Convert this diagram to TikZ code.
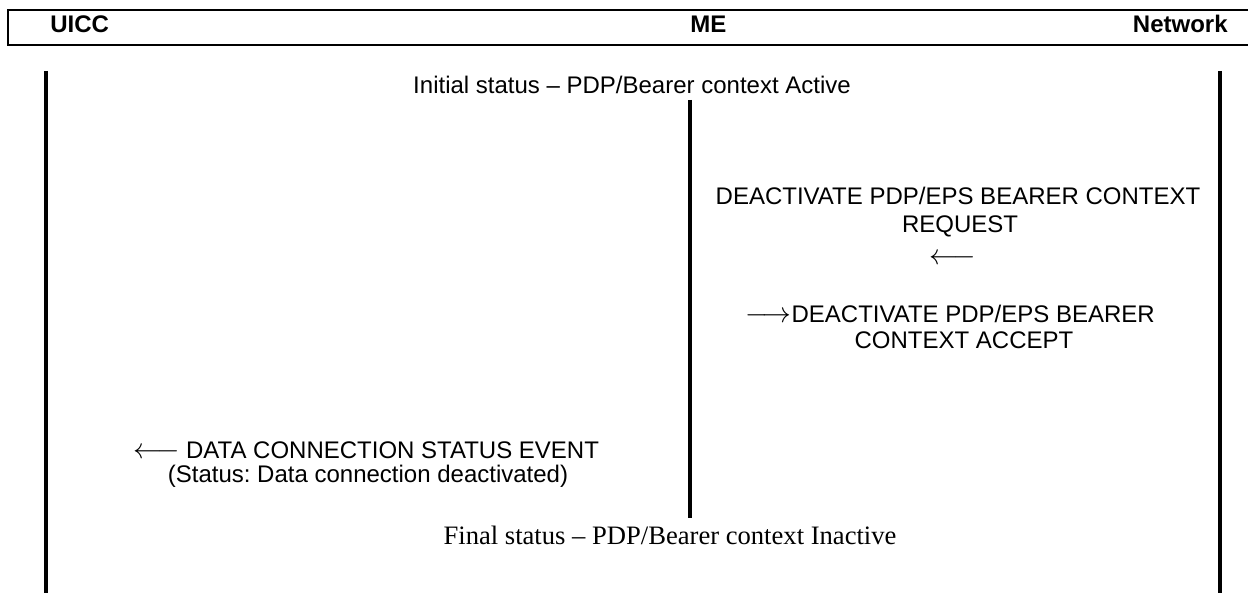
\documentclass[tikz,border=0pt]{standalone}
\usepackage{fontspec}
\setmainfont{Liberation Sans}
\newfontfamily\serifface[Ligatures=TeX]{Liberation Serif}
\frenchspacing
\tikzset{
  x=0.5pt, y=-0.5pt,
  hdr/.style={inner sep=0pt, font=\fontsize{12}{14}\selectfont\bfseries},
  msg/.style={inner sep=0pt, anchor=base, font=\fontsize{12}{14}\selectfont},
  fin/.style={inner sep=0pt, anchor=base, font=\fontsize{13.3}{15}\selectfont\serifface},
  arr/.style={inner sep=0pt, font=\fontsize{15}{15}\selectfont},
  life/.style={line width=2pt},
  midlife/.style={line width=1.75pt},
  frame/.style={line width=1pt}
}
\newcommand{\larr}{{\fontsize{15}{15}\selectfont$\longleftarrow$}}
\newcommand{\rarr}{{\fontsize{15}{15}\selectfont$\longrightarrow$}}
\begin{document}
\begin{tikzpicture}
\useasboundingbox (0,0) rectangle (1248,593);
% header
\coordinate (htr) at (1252,10);
\coordinate (htl) at (8,10);
\coordinate (hbl) at (8,45);
\coordinate (hbr) at (1252,45);
\draw[frame] (htr) -- (htl) -- (hbl) -- (hbr);
\node[hdr, anchor=base west] (uicc) at (50,33) {UICC};
\node[hdr, anchor=base west] (me) at (690,33) {ME};
\node[hdr, anchor=base east] (net) at (1228,33) {Network};
% lifelines
\coordinate (uT) at (46,71);   \coordinate (uB) at (46,595);
\coordinate (nT) at (1220,71); \coordinate (nB) at (1220,595);
\coordinate (mT) at (690,100); \coordinate (mB) at (690,518);
\draw[life] (uT) -- (uB);
\draw[life] (nT) -- (nB);
\draw[midlife] (mT) -- (mB);
% texts
\node[msg] (init) at (632,94) {Initial status – PDP/Bearer context Active};
\node[msg] (req1) at (958,205) {DEACTIVATE PDP/EPS BEARER CONTEXT};
\node[msg] (req2) at (960,233) {REQUEST};
\node[arr] (reqarr) at (953,259) {$\longleftarrow$};
\node[msg] (acc1) at (950,322) {\rarr DEACTIVATE PDP/EPS BEARER};
\node[msg] (acc2) at (964,349) {CONTEXT ACCEPT};
\node[msg] (ev1) at (366,458) {\larr\ DATA CONNECTION STATUS EVENT};
\node[msg] (ev2) at (368,482) {(Status: Data connection deactivated)};
\node[fin] (final) at (670,544) {Final status – PDP/Bearer context Inactive};
\end{tikzpicture}
\end{document}
